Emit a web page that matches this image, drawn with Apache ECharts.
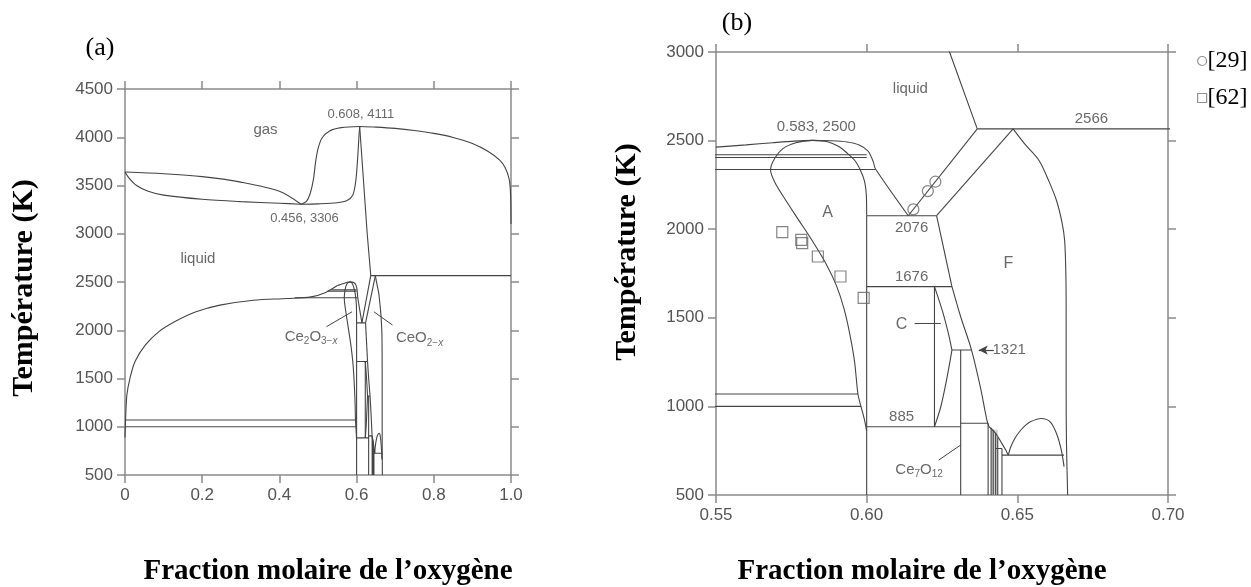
<!DOCTYPE html>
<html><head><meta charset="utf-8">
<script src="https://cdn.jsdelivr.net/npm/echarts@6/dist/echarts.min.js"></script>
<style>html,body{margin:0;padding:0;background:#fff}#c{width:1251px;height:587px}</style>
</head><body><div id="c"></div><script>
// ---------- axis ticks ----------
const ticksA_x = [0, 0.2, 0.4, 0.6, 0.8, 1.0];
const ticksA_y = [500, 1000, 1500, 2000, 2500, 3000, 3500, 4000, 4500];
const ticksB_x = [0.55, 0.60, 0.65, 0.70];
const ticksB_y = [500, 1000, 1500, 2000, 2500, 3000];

// ---------- panel (a) only: gas / liquid region ----------
const gasUpperLeft = [[0,3640],[0.1,3622],[0.2,3592],[0.3,3535],[0.4,3440],[0.456,3306]];
const gasLowerLeft = [[0,3640],[0.01,3580],[0.03,3500],[0.06,3440],[0.1,3400],[0.2,3357],[0.3,3333],[0.4,3316],[0.456,3306]];
const gasRise1 = [[0.456,3306],[0.47,3335],[0.48,3420],[0.488,3560],[0.494,3750],[0.5,3880],[0.51,3990],[0.53,4065],[0.56,4100],[0.608,4111]];
const gasRise2 = [[0.456,3306],[0.5,3310],[0.55,3322],[0.575,3345],[0.59,3400],[0.598,3550],[0.603,3800],[0.606,4000],[0.608,4111]];
const gasRight = [[0.608,4111],[0.65,4105],[0.7,4092],[0.75,4070],[0.8,4040],[0.85,3998],[0.9,3935],[0.94,3855],[0.97,3765],[0.985,3685],[0.995,3570],[0.999,3400],[1.0,3100]];
const bigLiquidus = [[0,888],[0.002,1128],[0.005,1334],[0.013,1505],[0.026,1677],[0.053,1848],[0.088,1986],[0.132,2095],[0.184,2191],[0.246,2260],[0.333,2311],[0.421,2329],[0.482,2346],[0.52,2392],[0.55,2463]];

// ---------- shared Ce-O detail (drawn in both panels, clipped) ----------
const liqGasDown = [[0.608,4111],[0.6275,3000],[0.6367,2566]];
const line2566 = [[0.6367,2566],[1.0,2566]];
const liquidusA = [[0.55,2463],[0.56,2476],[0.5688,2488],[0.576,2497],[0.5819,2501],[0.588,2499],[0.5935,2492],[0.5975,2475],[0.6005,2440],[0.6022,2380],[0.6029,2341],[0.6138,2076]];
const iso2420 = [[0.535,2420],[0.6,2420]];
const iso2405 = [[0.525,2405],[0.6,2405]];
const iso2337 = [[0.44,2337],[0.6029,2337]];
const iso1070 = [[0,1070],[0.5971,1070]];
const iso1000 = [[0,1000],[0.5981,1000]];
const aLeft = [[0.5819,2501],[0.5765,2488],[0.5722,2455],[0.5695,2400],[0.5681,2335],[0.5695,2265],[0.5732,2162],[0.5775,2050],[0.5819,1936],[0.5865,1805],[0.59,1680],[0.5925,1550],[0.5945,1400],[0.596,1250],[0.5971,1070],[0.5981,1000],[0.5993,923],[0.6,860]];
const aRight = [[0.5819,2501],[0.587,2494],[0.5906,2468],[0.5935,2430],[0.5962,2385],[0.598,2330],[0.5993,2270],[0.5999,2190],[0.6,2076]];
const v060 = [[0.6,2076],[0.6,500]];
const liqRight = [[0.6138,2076],[0.6367,2566]];
const line2076 = [[0.6,2076],[0.6232,2076]];
const fLeftUp = [[0.6232,2076],[0.6486,2566]];
const boxRight = [[0.6232,2076],[0.6283,1676]];
const line1676 = [[0.6,1676],[0.6283,1676]];
const fLeftLow = [[0.6283,1676],[0.6312,1506],[0.6348,1318],[0.6377,1111],[0.6399,923],[0.6406,885]];
const fRight = [[0.6486,2566],[0.6525,2480],[0.6572,2388],[0.6605,2270],[0.663,2162],[0.6648,2040],[0.6657,1936],[0.6661,1750],[0.6662,1500],[0.6662,1100],[0.6663,800],[0.6667,500]];
const cVert = [[0.6225,1676],[0.6225,885]];
const cUpper = [[0.6225,1676],[0.624,1600],[0.6254,1524],[0.627,1420],[0.6283,1318]];
const cLower = [[0.6283,1318],[0.6265,1148],[0.6246,998],[0.6225,885]];
const line1321 = [[0.6283,1318],[0.6348,1318]];
const vCe7 = [[0.6312,1318],[0.6312,500]];
const line885 = [[0.6,885],[0.6312,885]];
const ce7Top = [[0.6312,905],[0.6403,905]];
const ce7Right = [[0.6403,905],[0.6403,500]];
const v6413 = [[0.6413,880],[0.6413,500]];
const v6420 = [[0.6420,868],[0.6420,500]];
const v6428 = [[0.6428,848],[0.6428,500]];
const v6435 = [[0.6435,825],[0.6435,500]];
const v6449 = [[0.6449,762],[0.6449,500]];
const vCurve = [[0.6406,885],[0.6428,848],[0.6449,790],[0.6462,752],[0.647,725]];
const dome = [[0.647,725],[0.6478,771],[0.6492,820],[0.6507,857],[0.6525,890],[0.6543,913],[0.658,932],[0.6609,913],[0.663,847],[0.6646,753],[0.6655,660]];
const line725 = [[0.6449,725],[0.6655,725]];
const line762 = [[0.6428,762],[0.6449,762]];
const shadeBand = [[0.6413,868],[0.6435,868]];

// ---------- experimental points ----------
const ref29 = [[0.6155,2112],[0.6203,2215],[0.6228,2268]];
const ref62 = [[0.572,1983],[0.5783,1940],[0.5786,1921],[0.5838,1846],[0.5913,1733],[0.599,1612]];

// ---------- text annotations ----------
const labelsA = [
  {t:'gas', c:[0.364,4077], s:15},
  {t:'0.608, 4111', c:[0.611,4239], s:13},
  {t:'0.456, 3306', c:[0.465,3155], s:13},
  {t:'liquid', c:[0.189,2740], s:15},
  {t:'{m|Ce}{s|2}{m|O}{s|3−}{i|x}', c:[0.482,1934], s:15},
  {t:'{m|CeO}{s|2−}{i|x}', c:[0.763,1917], s:15}
];
const pointersA = [[[0.522,2037],[0.588,2191]], [[0.693,2054],[0.645,2191]]];
const labelsB = [
  {t:'liquid', c:[0.6145,2793], s:15},
  {t:'0.583, 2500', c:[0.5833,2576], s:15},
  {t:'2566', c:[0.6746,2623], s:15},
  {t:'A', c:[0.587,2096], s:16},
  {t:'2076', c:[0.6149,2006], s:15},
  {t:'F', c:[0.647,1804], s:16},
  {t:'1676', c:[0.6149,1729], s:15},
  {t:'C', c:[0.6116,1459], s:16},
  {t:'1321', c:[0.6473,1318], s:15},
  {t:'885', c:[0.6116,942], s:15},
  {t:'{m|Ce}{s|7}{m|O}{s|12}', c:[0.6174,641], s:15}
];
const pointersB = [[[0.6159,1468],[0.6246,1468]], [[0.6239,697],[0.6312,782]]];
const arrow1321 = [[0.6422,1318],[0.6372,1318]];

// ---------- styles ----------
const LINE = '#444', AX = '#8a8a8a', TXT = '#444';
const curveSet = new Set([gasUpperLeft,gasLowerLeft,gasRise1,gasRise2,gasRight,bigLiquidus,liquidusA,aLeft,aRight,fRight,cUpper,cLower,dome,vCurve,fLeftLow]);
const leftOnly = [gasUpperLeft,gasLowerLeft,gasRise1,gasRise2,gasRight,bigLiquidus];
const shared = [liqGasDown,line2566,liquidusA,iso2420,iso2405,iso2337,iso1070,iso1000,aLeft,aRight,v060,liqRight,line2076,fLeftUp,boxRight,line1676,fLeftLow,fRight,cVert,cUpper,cLower,line1321,vCe7,line885,ce7Top,ce7Right,v6413,v6420,v6428,v6435,v6449,vCurve,dome,line725,line762];

function ln(data, g, w) {
  return {type:'line', xAxisIndex:g*2, yAxisIndex:g*2, data:data, symbol:'none', showSymbol:false,
    smooth: curveSet.has(data) ? 0.3 : false, clip:true, silent:true, animation:false,
    lineStyle:{color:LINE, width:w||1.1}, z:3};
}
const rich = {
  m:{fontSize:15, fontFamily:'Liberation Sans', color:TXT},
  s:{fontSize:10, fontFamily:'Liberation Sans', color:TXT, verticalAlign:'top', padding:[9,0,0,0]},
  i:{fontSize:10, fontFamily:'Liberation Sans', color:TXT, fontStyle:'italic', verticalAlign:'top', padding:[9,0,0,0]}
};
function labelSeries(list, g) {
  return {type:'scatter', xAxisIndex:g*2, yAxisIndex:g*2, symbolSize:0, silent:true, animation:false, z:5,
    data:list.map(d => ({value:d.c, name:d.t, label:{fontSize:d.s}})),
    label:{show:true, position:'inside', formatter:p=>p.name, color:TXT, fontFamily:'Liberation Sans', rich:rich}};
}

const series = [];
leftOnly.forEach(a => series.push(ln(a,0)));
shared.forEach(a => { series.push(ln(a,0)); series.push(ln(a,1)); });
// light grey shading between the close vertical lines near x = 0.642
series.push({type:'line', xAxisIndex:2, yAxisIndex:2, data:shadeBand, symbol:'none', lineStyle:{width:0},
  areaStyle:{color:'#bdbdbd', origin:'start'}, silent:true, animation:false, z:2});
pointersA.forEach(a => series.push(ln(a,0,1)));
pointersB.forEach(a => series.push(ln(a,1,1)));
series.push(labelSeries(labelsA,0));
series.push(labelSeries(labelsB,1));
series.push({type:'line', xAxisIndex:2, yAxisIndex:2, data:[], markLine:{silent:true, animation:false, symbol:['none','arrow'], symbolSize:[7,9],
  lineStyle:{color:LINE, width:1.2, type:'solid'}, label:{show:false},
  data:[[{coord:arrow1321[0]},{coord:arrow1321[1]}]]}});
series.push({name:'[29]', type:'scatter', xAxisIndex:2, yAxisIndex:2, data:ref29, symbol:'circle', symbolSize:11,
  itemStyle:{color:'rgba(255,255,255,0)', borderColor:'#666', borderWidth:1.2}, z:6, silent:true, animation:false});
series.push({name:'[62]', type:'scatter', xAxisIndex:2, yAxisIndex:2, data:ref62, symbol:'rect', symbolSize:11,
  itemStyle:{color:'rgba(255,255,255,0)', borderColor:'#666', borderWidth:1.2}, z:6, silent:true, animation:false});

const tickLab = {color:'#555', fontFamily:'Liberation Sans', fontSize:17};
function xAx(g, pos, min, max, itv, fmt, show) {
  return {type:'value', gridIndex:g, position:pos, min:min, max:max, interval:itv,
    axisLine:{show:true, onZero:false, lineStyle:{color:AX, width:1.5}},
    axisTick:{show:true, length:8, lineStyle:{color:AX, width:1.5}},
    axisLabel:{show:show, formatter:fmt, margin:12, ...tickLab}, splitLine:{show:false}};
}
function yAx(g, pos, min, max, itv, show) {
  return {type:'value', gridIndex:g, position:pos, min:min, max:max, interval:itv,
    axisLine:{show:true, onZero:false, lineStyle:{color:AX, width:1.5}},
    axisTick:{show:true, length:8, lineStyle:{color:AX, width:1.5}},
    axisLabel:{show:show, formatter:v => String(v), margin:12, ...tickLab}, splitLine:{show:false}};
}
const fmtA = v => v === 0 ? '0' : v.toFixed(1);
const fmtB = v => v.toFixed(2);

const serif = 'Liberation Serif';
const option = {
  backgroundColor:'#fff',
  animation:false,
  grid:[{left:125, top:89, width:386, height:386}, {left:716, top:52, width:452, height:443}],
  xAxis:[
    xAx(0,'bottom',ticksA_x[0],ticksA_x[ticksA_x.length-1],0.2,fmtA,true),
    xAx(0,'top',ticksA_x[0],ticksA_x[ticksA_x.length-1],0.2,fmtA,false),
    xAx(1,'bottom',ticksB_x[0],ticksB_x[ticksB_x.length-1],0.05,fmtB,true),
    xAx(1,'top',ticksB_x[0],ticksB_x[ticksB_x.length-1],0.05,fmtB,false)
  ],
  yAxis:[
    yAx(0,'left',ticksA_y[0],ticksA_y[ticksA_y.length-1],500,true),
    yAx(0,'right',ticksA_y[0],ticksA_y[ticksA_y.length-1],500,false),
    yAx(1,'left',ticksB_y[0],ticksB_y[ticksB_y.length-1],500,true),
    yAx(1,'right',ticksB_y[0],ticksB_y[ticksB_y.length-1],500,false)
  ],
  legend:{data:[
      {name:'[29]', icon:'circle', itemStyle:{color:'#fff', borderColor:'#777', borderWidth:1.2}},
      {name:'[62]', icon:'rect', itemStyle:{color:'#fff', borderColor:'#777', borderWidth:1.2}}],
    orient:'vertical', left:1192, top:44,
    itemWidth:9, itemHeight:9, itemGap:13, textStyle:{fontFamily:serif, fontSize:24, color:'#000', padding:[0,0,0,-4]},
    selectedMode:false},
  graphic:[
    {type:'text', x:100, y:48, style:{text:'(a)', font:'26px "Liberation Serif"', fill:'#000', align:'center', verticalAlign:'middle'}},
    {type:'text', x:737, y:23, style:{text:'(b)', font:'26px "Liberation Serif"', fill:'#000', align:'center', verticalAlign:'middle'}},
    {type:'text', x:24, y:288, rotation:Math.PI/2, style:{text:'Température (K)', font:'bold 30px "Liberation Serif"', fill:'#000', align:'center', verticalAlign:'middle'}},
    {type:'text', x:627, y:252, rotation:Math.PI/2, style:{text:'Température (K)', font:'bold 30px "Liberation Serif"', fill:'#000', align:'center', verticalAlign:'middle'}},
    {type:'text', x:328, y:572, style:{text:'Fraction molaire de l’oxygène', font:'bold 29px "Liberation Serif"', fill:'#000', align:'center', verticalAlign:'middle'}},
    {type:'text', x:922, y:572, style:{text:'Fraction molaire de l’oxygène', font:'bold 29px "Liberation Serif"', fill:'#000', align:'center', verticalAlign:'middle'}}
  ],
  series:series
};
const chart = echarts.init(document.getElementById('c'), null, {renderer:'canvas'});
chart.setOption(option);
</script></body></html>
